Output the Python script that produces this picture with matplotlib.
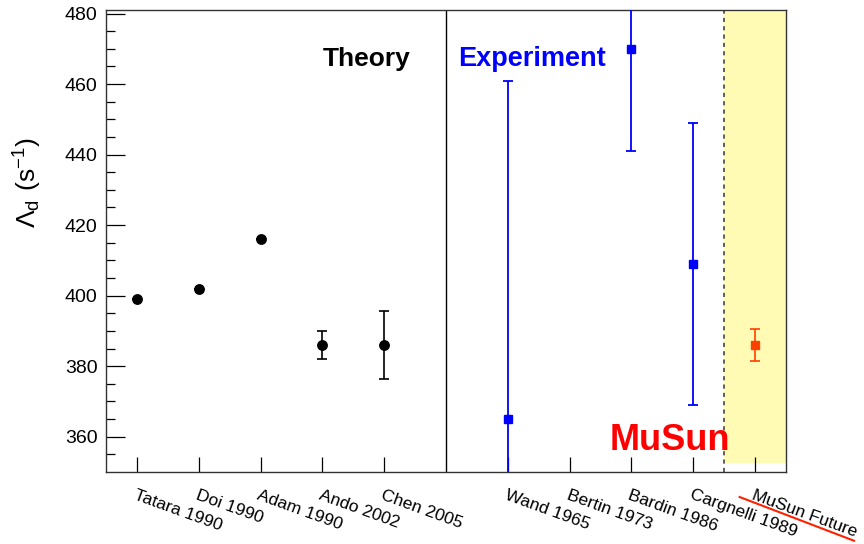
import numpy as np
import matplotlib.pyplot as plt
from matplotlib.patches import Rectangle

plt.rcParams['font.family'] = ['Liberation Sans', 'DejaVu Sans']
plt.rcParams['mathtext.fontset'] = 'custom'
plt.rcParams['mathtext.rm'] = 'Liberation Sans'

theory_labels = ['Tatara 1990', 'Doi 1990', 'Adam 1990', 'Ando 2002', 'Chen 2005']
theory_val = [399, 402, 416, 386, 386]
theory_err = [0, 0, 0, 4, 9.7]

exp_labels = ['Wand 1965', 'Bertin 1973', 'Bardin 1986', 'Cargnelli 1989']
exp_val = [365, np.nan, 470, 409]
exp_err = [96, np.nan, 29, 40]

musun_label = 'MuSun Future'
musun_val = [386]
musun_err = [4.5]

nt = len(theory_labels)
ne = len(exp_labels)
x_th = np.arange(1, nt + 1)
x_ex = np.arange(nt + 2, nt + 2 + ne)
x_mu = np.array([x_ex[-1] + 1])

fig = plt.figure(figsize=(8.64, 5.44), dpi=100)
ax = fig.add_axes([0.1227, 0.1324, 0.787, 0.8492])
ax.set_xlim(0.5, x_mu[0] + 0.5)
ax.set_ylim(350, 481)

# future band
ax.add_patch(Rectangle((x_mu[0] - 0.5, 352.5), 1.0, 128.0, facecolor='#fffab4',
                       edgecolor='none', zorder=0))
ax.axvline(x_mu[0] - 0.5, color='#444444', ls=(0, (2.5, 2.5)), lw=1.2, zorder=1)
ax.axvline(nt + 1, color='black', lw=1.0, zorder=1)

ax.errorbar(x_th, theory_val, yerr=theory_err, fmt='o', color='black', ms=6.8,
            capsize=3.5, elinewidth=1.2, capthick=1.2, zorder=3)
ax.errorbar(x_ex, exp_val, yerr=exp_err, fmt='s', color='#0000ff', ms=5.5,
            capsize=3.5, elinewidth=1.3, capthick=1.3, zorder=3)
ax.errorbar(x_mu, musun_val, yerr=musun_err, fmt='s', color='#ff4000', ms=5.5,
            capsize=3.5, elinewidth=1.2, capthick=1.2, zorder=3)

ticks = list(x_th) + list(x_ex) + list(x_mu)
labels = theory_labels + exp_labels + [musun_label]
ax.set_xticks(ticks)
ax.set_xticklabels(labels, rotation=-20, ha='left', va='top',
                   rotation_mode='anchor', fontsize=12.6)
ax.tick_params(axis='x', direction='in', length=11, width=0.9, pad=11)
ax.set_yticks(np.arange(360, 481, 20))
ax.set_yticks(np.arange(355, 481, 5), minor=True)
ax.tick_params(axis='y', which='major', direction='in', length=14, width=0.9,
               labelsize=14, pad=6)
ax.tick_params(axis='y', which='minor', direction='in', length=6.5, width=0.9)
for s in ax.spines.values():
    s.set_color('#333333')
    s.set_linewidth(1.0)

ax.text(4.0, 467.2, 'Theory', fontsize=19, fontweight='bold', color='black',
        ha='left', va='center')
ax.text(6.2, 467.2, 'Experiment', fontsize=19.5, fontweight='bold', color='#0000ff',
        ha='left', va='center')
ax.text(8.64, 358.9, 'MuSun', fontsize=26, fontweight='bold', color='#ff0000',
        ha='left', va='center')

# strike line under future label
ax.plot([10.75, 12.6], [342.9, 330.5], color='#ff2000', lw=1.5, clip_on=False)

fig.text(0.032, 0.665, r'$\mathregular{\Lambda_d\ (s^{-1})}$', rotation=90,
         fontsize=19, ha='center', va='center')

fig.savefig('out.png', dpi=100)
